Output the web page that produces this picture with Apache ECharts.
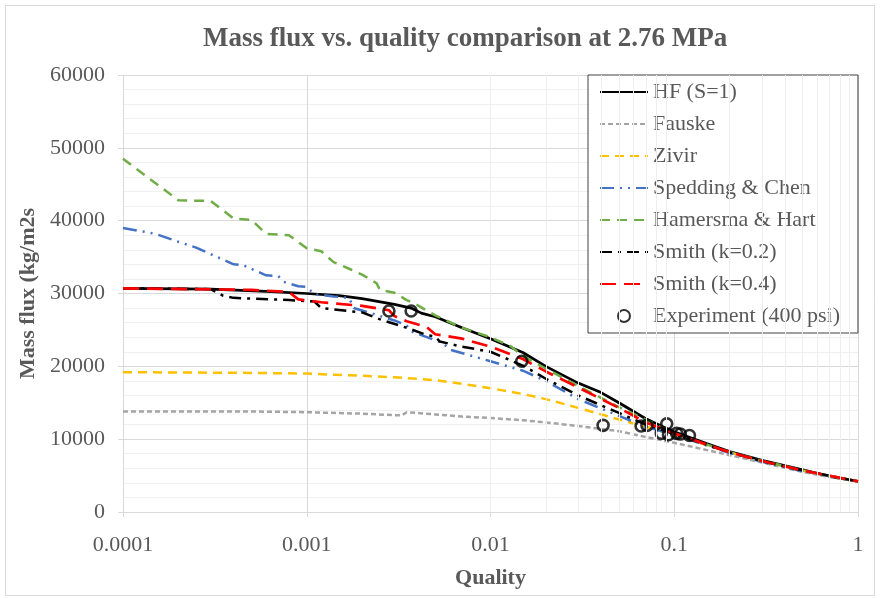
<!DOCTYPE html>
<html>
<head>
<meta charset="utf-8">
<script src="https://cdn.jsdelivr.net/npm/echarts@6/dist/echarts.min.js"></script>
<style>
html,body{margin:0;padding:0;background:#fff;}
#chart{width:880px;height:598px;}
</style>
</head>
<body>
<div id="chart"></div>
<script>
// ---- data (quality, mass flux kg/m2s) ----
const hf = [[0.0001,30700],[0.0003,30600],[0.0006,30300],[0.001,30000],[0.0015,29700],[0.002,29300],[0.003,28500],[0.0037,28000],[0.0042,27300],[0.005,26800],[0.007,25300],[0.01,23800],[0.015,21900],[0.02,20000],[0.03,17700],[0.04,16400],[0.05,15000],[0.07,12800],[0.1,11000],[0.15,9400],[0.2,8300],[0.3,7100],[0.5,5800],[0.7,4900],[1,4200]];
const fauske = [[0.0001,13800],[0.0005,13800],[0.001,13700],[0.002,13500],[0.003,13300],[0.0033,13300],[0.0035,13700],[0.005,13400],[0.007,13100],[0.01,12900],[0.015,12600],[0.02,12300],[0.03,11800],[0.05,11100],[0.07,10300],[0.1,9500],[0.2,7800],[0.3,6800],[0.5,5500],[0.7,4800],[1,4200]];
const zivir = [[0.0001,19200],[0.0005,19100],[0.001,19000],[0.002,18700],[0.003,18500],[0.005,18100],[0.007,17600],[0.01,17000],[0.015,16200],[0.02,15500],[0.03,14300],[0.05,12700],[0.07,11700],[0.1,10600],[0.2,8200],[0.3,7000],[0.5,5700],[1,4200]];
const spedding = [[0.0001,39000],[0.00015,38200],[0.0002,37100],[0.00025,36300],[0.0004,34000],[0.00045,33900],[0.0006,32500],[0.0007,32400],[0.00075,31600],[0.0009,31000],[0.001,30900],[0.0011,29900],[0.0014,29600],[0.0017,29400],[0.0018,28000],[0.0023,27200],[0.003,26300],[0.0035,25600],[0.0037,24800],[0.0055,23200],[0.006,22300],[0.01,20700],[0.015,19400],[0.02,18000],[0.03,15500],[0.05,13200],[0.07,11700],[0.1,10600],[0.2,8100],[0.3,6900],[0.5,5600],[1,4200]];
const hamersma = [[0.0001,48500],[0.0002,42800],[0.0003,42700],[0.0004,40300],[0.0005,40100],[0.0006,38200],[0.0008,38000],[0.001,36200],[0.0012,35800],[0.0014,34300],[0.0017,33400],[0.002,32600],[0.0024,31400],[0.0025,30500],[0.003,30100],[0.0035,29100],[0.004,28400],[0.005,27000],[0.007,25300],[0.01,24000],[0.013,22700],[0.015,21400],[0.02,19700],[0.03,17300],[0.05,14400],[0.07,12700],[0.1,10800],[0.2,8200],[0.3,7000],[0.5,5700],[1,4200]];
const smith02 = [[0.0001,30700],[0.0003,30600],[0.00035,29700],[0.0004,29400],[0.0008,29100],[0.0011,28900],[0.0012,28000],[0.002,27400],[0.0026,26300],[0.0035,25300],[0.0045,24300],[0.005,24100],[0.0053,23400],[0.007,22700],[0.01,22000],[0.015,20100],[0.02,18300],[0.03,16000],[0.05,13600],[0.07,12000],[0.1,10700],[0.2,8200],[0.3,7000],[0.5,5700],[1,4200]];
const smith04 = [[0.0001,30700],[0.0005,30500],[0.0008,30200],[0.0009,29200],[0.0012,28800],[0.002,28300],[0.0028,27700],[0.003,26900],[0.0035,26200],[0.0045,25400],[0.005,24400],[0.007,23800],[0.01,22700],[0.015,21000],[0.02,19300],[0.03,17100],[0.05,14300],[0.07,12300],[0.1,10800],[0.2,8200],[0.3,7000],[0.5,5700],[1,4200]];
const experiment = [[0.0028,27600],[0.0037,27600],[0.0148,20700],[0.041,11900],[0.066,11800],[0.071,11900],[0.085,10800],[0.091,12100],[0.093,10600],[0.103,10800],[0.108,10700],[0.121,10500]];

// tick layout
const xDecades = [0.0001,0.001,0.01,0.1];
const xMinorSteps = [2,3,4,5,6,7,8,9];
const minorX = [];
xDecades.forEach(d => xMinorSteps.forEach(m => minorX.push(+(m*d).toPrecision(3))));

const FONT = "'Liberation Serif','Times New Roman',serif";
const GREY = '#595959';

function lineSeries(name, data, color, width, dash, z) {
  return {
    name, type: 'line', data, symbol: 'none', showSymbol: false,
    lineStyle: { color, width, type: dash, cap: 'butt' },
    itemStyle: { color },
    z, animation: false
  };
}
const lineNames = ['HF (S=1)','Fauske','Zivir','Spedding & Chen','Hamersma & Hart','Smith (k=0.2)','Smith (k=0.4)'];

const chart = echarts.init(document.getElementById('chart'), null, { renderer: 'canvas' });
chart.setOption({
  animation: false,
  backgroundColor: '#fff',
  title: {
    text: 'Mass flux vs. quality comparison at 2.76 MPa',
    left: 198, top: 21,
    textStyle: { fontFamily: FONT, fontSize: 27, fontWeight: 'bold', color: GREY }
  },
  graphic: [{
    type: 'rect', silent: true, z: -1,
    shape: { x: 5.5, y: 5.5, width: 869, height: 590 },
    style: { fill: 'none', stroke: '#d9d9d9', lineWidth: 1 }
  }],
  grid: { left: 123, right: 22, top: 75, bottom: 86 },
  legend: {
    orient: 'vertical', left: 588, top: 75,
    data: lineNames.map(n => ({ name: n, itemStyle: { opacity: 0 } })).concat([{ name: 'Experiment (400 psi)' }]),
    backgroundColor: '#fff', borderColor: '#404040', borderWidth: 1,
    padding: [6, 18, 6, 11], itemGap: 10, itemWidth: 48, itemHeight: 12,
    textStyle: { fontFamily: FONT, fontSize: 22, color: GREY, lineHeight: 22 }
  },
  xAxis: {
    type: 'log', logBase: 10, min: 0.0001, max: 1,
    name: 'Quality', nameLocation: 'middle', nameGap: 55,
    nameTextStyle: { fontFamily: FONT, fontSize: 22, fontWeight: 'bold', color: GREY },
    axisLine: { show: true, lineStyle: { color: '#d9d9d9', width: 1 } },
    axisTick: { show: true, length: 5, lineStyle: { color: '#d9d9d9' } },
    axisLabel: { fontFamily: FONT, fontSize: 22, color: GREY, margin: 22,
      formatter: v => String(+v.toPrecision(3)) },
    splitLine: { show: true, lineStyle: { color: '#d9d9d9', width: 1 } }
  },
  yAxis: {
    type: 'value', min: 0, max: 60000, interval: 10000,
    name: 'Mass flux (kg/m2s', nameLocation: 'middle', nameGap: 67,
    nameTextStyle: { fontFamily: FONT, fontSize: 22, fontWeight: 'bold', color: GREY },
    axisLine: { show: true, lineStyle: { color: '#d9d9d9', width: 1 } },
    axisTick: { show: true, length: 5, lineStyle: { color: '#d9d9d9' } },
    axisLabel: { fontFamily: FONT, fontSize: 22, color: GREY, margin: 18, formatter: v => String(v) },
    splitLine: { show: true, lineStyle: { color: '#d9d9d9', width: 1 } },
    minorTick: { show: false, splitNumber: 5 },
    minorSplitLine: { show: true, lineStyle: { color: '#f0f0f0', width: 1 } }
  },
  series: [
    {
      name: 'minorgrid', type: 'line', data: [], z: 1, silent: true,
      markLine: {
        silent: true, symbol: ['none','none'], label: { show: false }, animation: false,
        lineStyle: { color: '#eeeeee', width: 1, type: 'solid' },
        emphasis: { disabled: true },
        data: minorX.map(v => ({ xAxis: v }))
      }
    },
    lineSeries('HF (S=1)', hf, '#000000', 2.7, 'solid', 3),
    lineSeries('Fauske', fauske, '#A5A5A5', 2.5, [5, 3], 3),
    lineSeries('Zivir', zivir, '#FFC000', 2.5, [9, 6], 3),
    lineSeries('Spedding & Chen', spedding, '#4472C4', 2.5, [14, 6, 2, 6, 2, 6], 3),
    lineSeries('Hamersma & Hart', hamersma, '#70AD47', 2.5, [10, 7], 3),
    lineSeries('Smith (k=0.2)', smith02, '#000000', 2.5, [12, 6, 3, 6], 3),
    lineSeries('Smith (k=0.4)', smith04, '#FF0000', 2.7, [16, 8], 3),
    {
      name: 'Experiment (400 psi)', type: 'scatter', data: experiment,
      symbol: 'circle', symbolSize: 11, z: 4,
      itemStyle: { color: 'rgba(255,255,255,0)', borderColor: '#000', borderWidth: 2.6 }
    }
  ]
});
</script>
</body>
</html>
